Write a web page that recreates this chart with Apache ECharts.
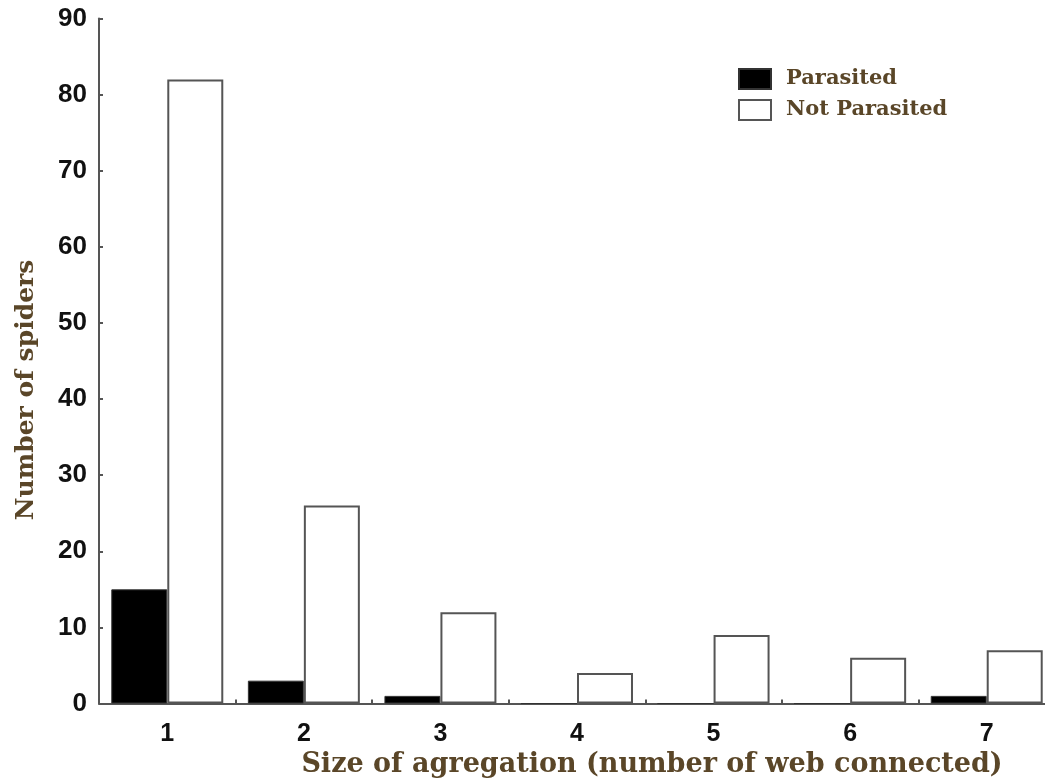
<!DOCTYPE html>
<html>
<head>
<meta charset="utf-8">
<script src="https://cdn.jsdelivr.net/npm/echarts@6/dist/echarts.min.js"></script>
<style>html,body{margin:0;padding:0;background:#fff}#c{width:1045px;height:784px}</style>
</head>
<body>
<div id="c"></div>
<script>
var categories = ['1', '2', '3', '4', '5', '6', '7'];
var parasited = [15, 3, 1, 0, 0, 0, 1];
var notParasited = [82, 26, 12, 4, 9, 6, 7];
var yTicks = { min: 0, max: 90, interval: 10 };

var titleColor = '#5a4628';
var lineColor = '#555';
var chart = echarts.init(document.getElementById('c'), null, { renderer: 'canvas' });
chart.setOption({
  animation: false,
  backgroundColor: '#fff',
  grid: { left: 99, right: -10, top: 18.5, bottom: 80.5, containLabel: false, outerBoundsMode: 'none' },
  legend: {
    orient: 'vertical', left: 733, top: 63, itemWidth: 32, itemHeight: 20, itemGap: 9,
    textStyle: { fontFamily: 'DejaVu Serif', fontWeight: 'bold', fontSize: 21, color: titleColor, padding: [0, 0, 0, 10] },
    data: [
      { name: 'Parasited', icon: 'rect' },
      { name: 'Not Parasited', icon: 'rect' }
    ]
  },
  xAxis: {
    type: 'category', data: categories, boundaryGap: true,
    name: 'Size of agregation (number of web connected)', nameLocation: 'middle', nameGap: 47,
    nameTextStyle: { fontFamily: 'DejaVu Serif', fontWeight: 'bold', fontSize: 27, color: titleColor, padding: [0, 0, 0, 150] },
    axisLine: { lineStyle: { color: lineColor, width: 2 } },
    axisTick: { show: true, inside: true, length: 4, alignWithLabel: false, interval: 0, lineStyle: { color: lineColor, width: 2 } },
    axisLabel: { fontFamily: 'Liberation Sans', fontWeight: 'bold', fontSize: 25, color: '#111', margin: 18 },
    splitLine: { show: false }
  },
  yAxis: {
    type: 'value', min: yTicks.min, max: yTicks.max, interval: yTicks.interval,
    name: 'Number of spiders', nameLocation: 'middle', nameGap: 60, nameRotate: 90,
    nameTextStyle: { fontFamily: 'DejaVu Serif', fontWeight: 'bold', fontSize: 25, color: titleColor, padding: [0, 58, 0, 0] },
    axisLine: { show: true, lineStyle: { color: lineColor, width: 2 } },
    axisTick: { show: true, inside: true, length: 4, lineStyle: { color: lineColor, width: 2 } },
    axisLabel: { fontFamily: 'Liberation Sans', fontWeight: 'bold', fontSize: 26, color: '#111', margin: 12 },
    splitLine: { show: false }
  },
  series: [
    {
      name: 'Parasited', type: 'bar', data: parasited, barGap: '0%', barCategoryGap: '18%',
      itemStyle: { color: '#000', borderColor: '#333', borderWidth: 1 }
    },
    {
      name: 'Not Parasited', type: 'bar', data: notParasited, barGap: '0%', barCategoryGap: '18%',
      itemStyle: { color: '#fff', borderColor: lineColor, borderWidth: 2 }
    }
  ]
});
</script>
</body>
</html>
